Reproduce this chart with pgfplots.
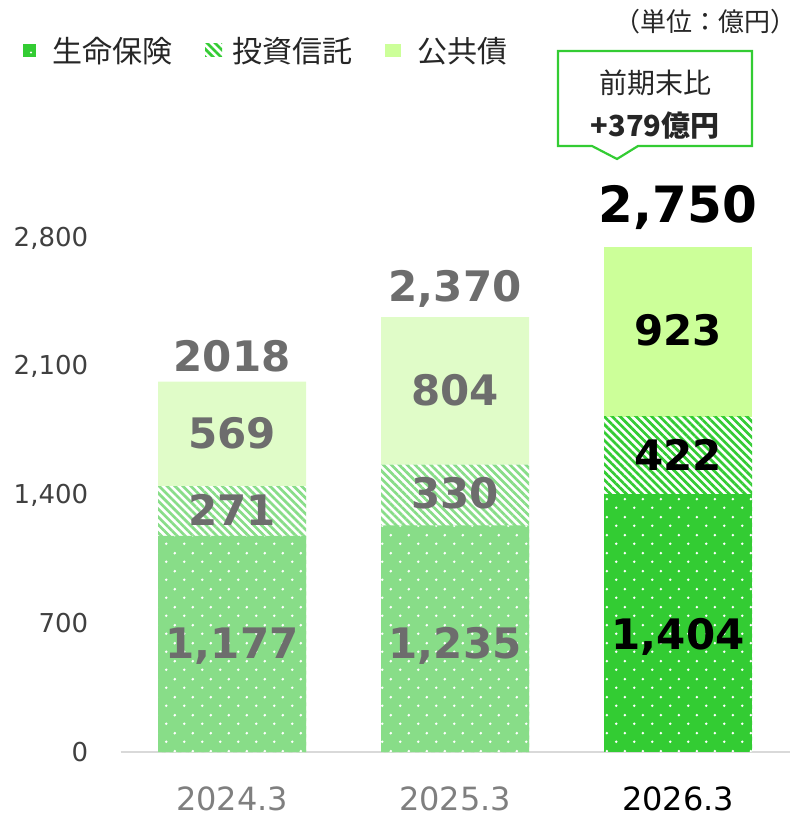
\documentclass[border=0pt]{standalone}
\usepackage{fontspec}
\setmainfont{DejaVu Sans}
\newfontfamily\jp{Noto Sans CJK JP}
\usepackage{pgfplots}
\pgfplotsset{compat=1.18}
\usetikzlibrary{patterns,patterns.meta}
\definecolor{cGreen}{HTML}{33CC33}
\definecolor{cLight}{HTML}{88DD88}
\definecolor{cBond}{HTML}{CCFF99}
\definecolor{cBondL}{HTML}{E0FCC8}
\definecolor{cLab}{HTML}{6D6D6D}
\definecolor{cTick}{HTML}{404040}
\definecolor{cXGray}{HTML}{7F7F7F}
\definecolor{cAxis}{HTML}{D9D9D9}
\definecolor{cText}{HTML}{262626}
\pgfdeclarepatternformonly{mydots}{\pgfqpoint{0bp}{0bp}}{\pgfqpoint{18bp}{18bp}}{\pgfqpoint{18bp}{18bp}}{%
  \pgfpathcircle{\pgfqpoint{4.5bp}{4.5bp}}{1.5bp}%
  \pgfpathcircle{\pgfqpoint{13.5bp}{13.5bp}}{1.5bp}%
  \pgfusepath{fill}}
\tikzset{stripes/.style={pattern={Lines[angle=-45,distance=5.6bp,line width=2.7bp]}, pattern color=#1}}
\begin{document}
\begin{tikzpicture}
\useasboundingbox (0,0) rectangle (800bp,818bp);
\begin{axis}[
  at={(120.5bp,66bp)}, anchor=south west,
  scale only axis, width=669bp, height=514bp,
  xmin=-0.5, xmax=2.5, ymin=0, ymax=2800,
  clip=false,
  axis x line=bottom, axis y line=left,
  x axis line style={draw=cAxis, line width=2.5bp, -},
  y axis line style={draw=none},
  tick style={draw=none},
  xtick={0,1,2},
  xticklabels={\textcolor{cXGray}{2024.3},\textcolor{cXGray}{2025.3},2026.3},
  xticklabel style={anchor=north, inner sep=0pt, yshift=-32bp, font=\fontsize{32bp}{32bp}\selectfont},
  ytick={0,700,1400,2100,2800},
  yticklabel style={anchor=east, inner sep=0pt, xshift=-30bp, text=cTick, font=\fontsize{26bp}{26bp}\selectfont, /pgf/number format/1000 sep={,}},
  /pgf/number format/assume math mode=true,
]
% light bars (2024.3, 2025.3)
\addplot[ybar, bar width=148bp, bar shift=0pt, draw=none, fill=cBondL] coordinates {(0,2017) (1,2369)};
\addplot[ybar, bar width=148bp, bar shift=0pt, draw=none, fill=white, postaction={stripes=cLight}] coordinates {(0,1448) (1,1565)};
\addplot[ybar, bar width=148bp, bar shift=0pt, draw=none, fill=cLight, postaction={pattern=mydots, pattern color=white}] coordinates {(0,1177) (1,1235)};
% bright bar (2026.3)
\addplot[ybar, bar width=148bp, bar shift=0pt, draw=none, fill=cBond] coordinates {(2,2749)};
\addplot[ybar, bar width=148bp, bar shift=0pt, draw=none, fill=white, postaction={stripes=cGreen}] coordinates {(2,1826)};
\addplot[ybar, bar width=148bp, bar shift=0pt, draw=none, fill=cGreen, postaction={pattern=mydots, pattern color=white}] coordinates {(2,1404)};
% segment labels
\addplot[draw=none, mark=none, nodes near coords={\pgfplotspointmeta}, point meta=explicit symbolic,
  nodes near coords style={anchor=center, inner sep=0pt, text depth=0pt, text=cLab, font=\fontsize{42bp}{42bp}\selectfont\bfseries}]
  coordinates {(0,594) [{1,177}] (0,1318) [271] (0,1738) [569] (1,594) [{1,235}] (1,1411) [330] (1,1972) [804]
  (0,2157) [2018] (1,2539) [{2,370}]};
\addplot[draw=none, mark=none, nodes near coords={\pgfplotspointmeta}, point meta=explicit symbolic,
  nodes near coords style={anchor=center, inner sep=0pt, text depth=0pt, text=black, font=\fontsize{42bp}{42bp}\selectfont\bfseries}]
  coordinates {(2,643) [{1,404}] (2,1618) [422] (2,2299) [923]};
\addplot[draw=none, mark=none, nodes near coords={\pgfplotspointmeta}, point meta=explicit symbolic,
  nodes near coords style={anchor=center, inner sep=0pt, text depth=0pt, text=black, font=\fontsize{50bp}{50bp}\selectfont\bfseries}]
  coordinates {(2,2985) [{2,750}]};
\end{axis}
% legend
\fill[cGreen] (23bp,761bp) rectangle (36bp,774bp);
\fill[white] (31bp,765.5bp) circle (1.2bp);
\node[anchor=west, inner sep=0pt, text=cText, font=\jp\fontsize{30bp}{30bp}\selectfont] at (52bp,767bp) {生命保険};
\fill[white] (205bp,761bp) rectangle (222bp,774bp);
\path[stripes=cGreen] (205bp,761bp) rectangle (222bp,774bp);
\node[anchor=west, inner sep=0pt, text=cText, font=\jp\fontsize{30bp}{30bp}\selectfont] at (232bp,767bp) {投資信託};
\fill[cBond] (385bp,761bp) rectangle (401bp,774bp);
\node[anchor=west, inner sep=0pt, text=cText, font=\jp\fontsize{30bp}{30bp}\selectfont] at (417bp,767bp) {公共債};
% unit
\node[anchor=east, inner sep=0pt, text=cText, font=\jp\fontsize{26bp}{26bp}\selectfont] at (797bp,796bp) {（単位：億円）};
% callout
\draw[cGreen, line width=2.2bp, fill=white, line join=miter] (558bp,767bp) -- (752bp,767bp) -- (752bp,672bp) -- (638bp,672bp) -- (617bp,659bp) -- (592bp,672bp) -- (558bp,672bp) -- cycle;
\node[inner sep=0pt, text=cText, font=\jp\fontsize{28bp}{28bp}\selectfont] at (655bp,735bp) {前期末比};
\node[inner sep=0pt, text=cText, font=\jp\bfseries\fontsize{29bp}{29bp}\selectfont] at (655bp,692bp) {+379億円};
\end{tikzpicture}
\end{document}
